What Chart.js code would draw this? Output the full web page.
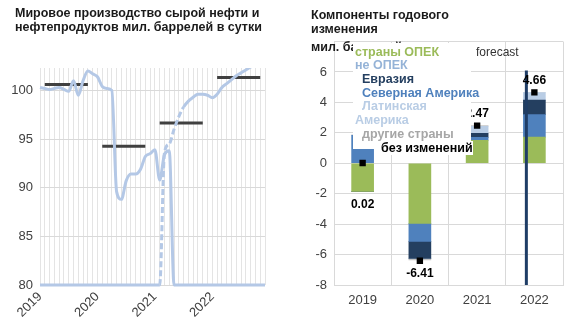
<!DOCTYPE html>
<html>
<head>
<meta charset="utf-8">
<script src="https://cdn.jsdelivr.net/npm/chart.js@4.4.1/dist/chart.umd.min.js"></script>
<style>
  html, body { margin: 0; padding: 0; background: #fff; }
  #wrap { position: relative; width: 570px; height: 330px; overflow: hidden; font-family: "Liberation Sans", Arial, sans-serif; }
  canvas { position: absolute; top: 0; }
  #cLeft { left: 0; }
  #cRight { left: 285px; }
  .title { position: absolute; font-weight: bold; font-size: 12.5px; line-height: 14.5px; color: #1a1a1a; white-space: nowrap; }
  #legend { position: absolute; left: 353px; top: 42.5px; width: 118px; height: 106px; background: #fff; }
  #legend div { position: absolute; font-weight: bold; font-size: 12.5px; line-height: 14px; white-space: nowrap; }
  #forecast { position: absolute; left: 476px; top: 45px; font-size: 12px; color: #333; }
</style>
</head>
<body>
<div id="wrap">
  <canvas id="cLeft" width="285" height="330"></canvas>
  <canvas id="cRight" width="285" height="330"></canvas>
  <div class="title" style="left:15px; top:5.5px;">Мировое производство сырой нефти и<br>нефтепродуктов мил. баррелей в сутки</div>
  <div class="title" style="left:311px; top:7.5px;">Компоненты годового<br>изменения</div>
  <div class="title" style="left:311px; top:40px;">мил. баррелей в сутки</div>
  <div id="forecast">forecast</div>
  <div id="legend">
    <div style="left:2px; top:2.5px; color:#9bbb59;">страны ОПЕК</div>
    <div style="left:2px; top:15.5px; color:#95b3d7;">не ОПЕК</div>
    <div style="left:9px; top:29.5px; color:#243f60;">Евразия</div>
    <div style="left:9px; top:43.5px; color:#4f81bd;">Северная Америка</div>
    <div style="left:9px; top:56.5px; color:#b9cde5;">Латинская</div>
    <div style="left:2px; top:70.5px; color:#b9cde5;">Америка</div>
    <div style="left:9px; top:84.5px; color:#a6a6a6;">другие страны</div>
    <div style="left:28px; top:98.5px; color:#000; background:#fff;">без изменений</div>
  </div>
</div>
<script>
// Left chart data: monthly world production, million barrels per day
var months = [];
for (var yr = 2019; yr <= 2022; yr++) {
    for (var m = 1; m <= 12; m++) {
        months.push(yr + '-' + (m < 10 ? '0' + m : m));
    }
}

var production = [100.3, 100.2, 100.1, 100.2, 100.3, 100.1, 99.9, 101.0, 99.5, 101.0, 102.0, 101.7,
                  101.4, 100.4, 100.2, 100.0, 89.6, 88.8, 90.7, 91.4, 91.4, 91.9, 93.2, 93.5,
                  93.9, 90.8, 93.4, 93.8, 80, 80, 80, 80, 80, 80, 80, 80,
                  80, 80, 80, 80, 80, 80, 80, 80, 80, 80, 80, 80];

var forecastProduction = [80, 80, 80, 80, 80, 80, 80, 80, 80, 80, 80, 80,
                          80, 80, 80, 80, 80, 80, 80, 80, 80, 80, 80, 80,
                          80, 80, 93.6, 94.5, 96.0, 97.3, 98.3, 98.9, 99.3, 99.6, 99.6, 99.5,
                          99.25, 99.6, 100.3, 100.7, 101.1, 101.5, 101.8, 102.1, 102.4, 102.6, 102.8, 103.0];

var yearAverages = [100.6, 94.25, 96.65, 101.33];

// Right chart data: components of annual change
var years = ['2019', '2020', '2021', '2022'];
var opec = [-1.85, -3.95, 1.5, 1.72];
var northAmerica = [1.84, -1.18, 0.2, 1.48];
var eurasia = [0, -1.12, 0.27, 0.95];
var latinAmerica = [0, 0, 0.46, 0.5];
var otherCountries = [0.03, -0.1, 0.04, 0];
var netChange = [0.02, -6.41, 2.47, 4.66];
var forecastDivider = { at: 2.86, from: -8, to: 6.1 };

Chart.defaults.font.family = '"Liberation Sans", Arial, sans-serif';
Chart.defaults.color = '#404040';

// yearly average segments (months 2..11 of each year)
var averageLine = months.map(function (label, i) {
    var mi = i % 12;
    return (mi >= 1 && mi <= 10) ? yearAverages[Math.floor(i / 12)] : null;
});

new Chart(document.getElementById('cLeft'), {
    type: 'line',
    data: {
        labels: months,
        datasets: [{
            data: production,
            borderColor: '#b4c8e6',
            borderWidth: 3,
            pointRadius: 0,
            cubicInterpolationMode: 'monotone',
            clip: { left: 2, right: 2, top: 0, bottom: 3 }
        }, {
            data: forecastProduction,
            borderColor: '#b4c8e6',
            borderWidth: 3,
            pointRadius: 0,
            cubicInterpolationMode: 'monotone',
            clip: { left: 2, right: 2, top: 0, bottom: 3 },
            segment: {
                borderDash: function (ctx) {
                    return (ctx.p0DataIndex >= 25 && ctx.p0DataIndex <= 29) ? [6, 3] : undefined;
                }
            }
        }, {
            data: averageLine,
            borderColor: '#404040',
            borderWidth: 3,
            pointRadius: 0,
            spanGaps: false
        }]
    },
    options: {
        responsive: false,
        animation: false,
        layout: { padding: { top: 68, right: 20, left: 0, bottom: 0 } },
        plugins: { legend: { display: false }, tooltip: { enabled: false } },
        scales: {
            x: {
                grid: { color: '#e4e4e4', drawTicks: false },
                border: { display: false },
                ticks: {
                    autoSkip: false,
                    minRotation: 45,
                    maxRotation: 45,
                    padding: 4,
                    font: { size: 13 },
                    callback: function (v, i) { return i % 12 === 0 ? months[i].slice(0, 4) : ''; }
                },
                afterFit: function (s) { s.height = 45; }
            },
            y: {
                min: 80,
                max: 102.3,
                grid: { color: '#d9d9d9', drawTicks: false },
                border: { display: false },
                ticks: { stepSize: 5, includeBounds: false, padding: 7, font: { size: 13 } },
                afterFit: function (s) { s.width = 40; }
            }
        }
    }
});

// net change labels above / below each bar
var netLabels = {
    id: 'netLabels',
    afterDatasetsDraw: function (chart) {
        var ctx = chart.ctx;
        var xs = chart.scales.x;
        var ys = chart.scales.y;
        ctx.save();
        ctx.font = 'bold 12px "Liberation Sans", Arial, sans-serif';
        ctx.fillStyle = '#000';
        ctx.textAlign = 'center';
        ctx.textBaseline = 'middle';
        netChange.forEach(function (v, i) {
            var parts = [opec[i], northAmerica[i], eurasia[i], latinAmerica[i], otherCountries[i]];
            var neg = 0, pos = 0;
            parts.forEach(function (p) { if (p < 0) neg += p; else pos += p; });
            var px = xs.getPixelForValue(i);
            var py = opec[i] < 0
                ? ys.getPixelForValue(Math.min(neg, v)) + 13
                : ys.getPixelForValue(Math.max(pos, v)) - 12;
            ctx.fillText(v.toFixed(2), px, py);
        });
        ctx.restore();
    }
};

function barSet(label, values, color) {
    return {
        type: 'bar',
        label: label,
        data: values,
        backgroundColor: color,
        barThickness: 22,
        grouped: false,
        stack: 'components'
    };
}

new Chart(document.getElementById('cRight'), {
    type: 'bar',
    data: {
        labels: years,
        datasets: [
            barSet('страны ОПЕК', opec, '#9bbb59'),
            barSet('Северная Америка', northAmerica, '#4f81bd'),
            barSet('Евразия', eurasia, '#243f60'),
            barSet('Латинская Америка', latinAmerica, '#b9cde5'),
            barSet('другие страны', otherCountries, '#c4c4c4'),
            {
                type: 'line',
                label: 'без изменений',
                data: netChange,
                showLine: false,
                pointStyle: 'rect',
                pointRadius: 4.5,
                pointBackgroundColor: '#000',
                pointBorderWidth: 0,
                stack: 'net',
                order: -1
            },
            {
                type: 'line',
                xAxisID: 'xl',
                data: [{ x: forecastDivider.at, y: forecastDivider.from }, { x: forecastDivider.at, y: forecastDivider.to }],
                borderColor: '#1f3d66',
                borderWidth: 3,
                pointRadius: 0,
                stack: 'divider',
                order: -2
            }
        ]
    },
    options: {
        responsive: false,
        animation: false,
        layout: { padding: { top: 41.5, right: 7, left: 0, bottom: 0 } },
        plugins: { legend: { display: false }, tooltip: { enabled: false } },
        scales: {
            x: {
                stacked: true,
                grid: { color: '#d9d9d9', drawTicks: false, offset: true },
                border: { color: '#d9d9d9' },
                ticks: { padding: 8, font: { size: 13 } },
                afterFit: function (s) { s.height = 45; }
            },
            xl: {
                type: 'linear',
                display: false,
                offset: false,
                grid: { offset: false },
                bounds: 'ticks',
                min: -0.5,
                max: 3.5
            },
            y: {
                stacked: true,
                min: -8,
                max: 8,
                grid: { color: '#d9d9d9', drawTicks: false },
                border: { color: '#d9d9d9' },
                ticks: {
                    stepSize: 2,
                    padding: 7,
                    font: { size: 13 },
                    callback: function (v) { return v === 8 ? '' : v; }
                },
                afterFit: function (s) { s.width = 49; }
            }
        }
    },
    plugins: [netLabels]
});
</script>
</body>
</html>
